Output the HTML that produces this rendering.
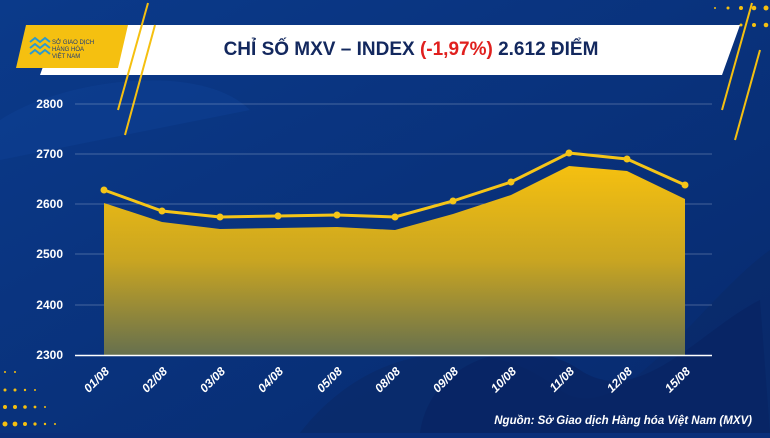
<!DOCTYPE html><html><head><meta charset="utf-8"><style>body{margin:0;width:770px;height:433px;overflow:hidden;background:#0a2f7a;font-family:"Liberation Sans",sans-serif}</style></head><body>
<svg width="770" height="433" xmlns="http://www.w3.org/2000/svg">
<defs>
<linearGradient id="bg" x1="0" y1="0" x2="1" y2="1"><stop offset="0" stop-color="#0b3a8a"/><stop offset="1" stop-color="#072a6e"/></linearGradient>
<linearGradient id="ar" x1="0" y1="0" x2="0" y2="1"><stop offset="0" stop-color="#f5c010"/><stop offset="0.5" stop-color="#c9a521"/><stop offset="1" stop-color="#66704e"/></linearGradient>
</defs>
<rect width="770" height="433" fill="url(#bg)"/>
<path d="M300 433 C380 330 500 340 560 390 C620 433 700 300 770 250 L770 433Z" fill="#0a2a6a" opacity="0.8"/>
<path d="M420 433 C430 360 520 330 580 370 C640 410 700 330 760 300 L770 433Z" fill="#082462" opacity="0.7"/>
<path d="M0 120 C60 80 200 60 250 110 L0 160Z" fill="#0d3f93" opacity="0.5"/>
<g fill="#f5c010">
<circle cx="5" cy="372" r="1"/><circle cx="15" cy="372" r="1"/><circle cx="5" cy="390" r="1.5"/><circle cx="15" cy="390" r="1.5"/><circle cx="25" cy="390" r="1.2"/><circle cx="35" cy="390" r="1"/>
<circle cx="5" cy="407" r="2"/><circle cx="15" cy="407" r="2"/><circle cx="25" cy="407" r="1.8"/><circle cx="35" cy="407" r="1.4"/><circle cx="45" cy="407" r="1"/>
<circle cx="5" cy="424" r="2.5"/><circle cx="15" cy="424" r="2.4"/><circle cx="25" cy="424" r="2"/><circle cx="35" cy="424" r="1.6"/><circle cx="45" cy="424" r="1.2"/><circle cx="55" cy="424" r="1"/>
<circle cx="715" cy="8" r="1"/><circle cx="728" cy="8" r="1.5"/><circle cx="741" cy="8" r="2"/><circle cx="754" cy="8" r="2.3"/><circle cx="766" cy="8" r="2.5"/>
<circle cx="741" cy="25" r="1.5"/><circle cx="754" cy="25" r="2"/><circle cx="766" cy="25" r="2.3"/>
</g>
<polygon points="58,25 740,25 722,75 40,75" fill="#fff"/>
<polygon points="26,25 128,25 118,68 16,68" fill="#f5c010"/>
<text x="52" y="44" font-size="6" fill="#1a3a7a">SỞ GIAO DỊCH</text>
<text x="52" y="51" font-size="6" fill="#1a3a7a">HÀNG HÓA</text>
<text x="52" y="58" font-size="6" fill="#1a3a7a">VIỆT NAM</text>
<path d="M30 42 l5 -4 l5 4 l5 -4 l5 4 M30 48 l5 -4 l5 4 l5 -4 l5 4 M30 54 l5 -4 l5 4 l5 -4 l5 4" stroke="#2a9ad0" stroke-width="2" fill="none"/>
<g stroke="#f5c010" stroke-width="2"><line x1="148" y1="3" x2="118" y2="110"/><line x1="155" y1="25" x2="125" y2="135"/><line x1="752" y1="3" x2="722" y2="110"/><line x1="760" y1="50" x2="735" y2="140"/></g>
<text x="411" y="55" text-anchor="middle" font-size="19" font-weight="bold" fill="#13285e">CHỈ SỐ MXV – INDEX <tspan fill="#e0201e">(-1,97%)</tspan> 2.612 ĐIỂM</text>
<g stroke="#ffffff" stroke-opacity="0.25" stroke-width="1"><line x1="75" y1="104" x2="712" y2="104"/><line x1="75" y1="154" x2="712" y2="154"/><line x1="75" y1="204" x2="712" y2="204"/><line x1="75" y1="254" x2="712" y2="254"/><line x1="75" y1="305" x2="712" y2="305"/></g>
<g font-size="12" font-weight="bold" fill="#fff" text-anchor="end"><text x="63" y="108">2800</text><text x="63" y="158">2700</text><text x="63" y="208">2600</text><text x="63" y="258">2500</text><text x="63" y="309">2400</text><text x="63" y="359">2300</text></g>
<polygon points="104,203 162,222 220,229 278,228 337,227 395,230 453,214 511,195 569,166 627,171 685,199 685,355 104,355" fill="url(#ar)"/>
<line x1="75" y1="355.5" x2="712" y2="355.5" stroke="#fff" stroke-width="1.5"/>
<polyline points="104,190 162,211 220,217 278,216 337,215 395,217 453,201 511,182 569,153 627,159 685,185" fill="none" stroke="#f5c518" stroke-width="3"/>
<g fill="#f5c518"><circle cx="104" cy="190" r="3.5"/><circle cx="162" cy="211" r="3.5"/><circle cx="220" cy="217" r="3.5"/><circle cx="278" cy="216" r="3.5"/><circle cx="337" cy="215" r="3.5"/><circle cx="395" cy="217" r="3.5"/><circle cx="453" cy="201" r="3.5"/><circle cx="511" cy="182" r="3.5"/><circle cx="569" cy="153" r="3.5"/><circle cx="627" cy="159" r="3.5"/><circle cx="685" cy="185" r="3.5"/></g>
<g font-size="12" font-weight="bold" fill="#fff" font-style="italic">
<text transform="translate(110,372) rotate(-45)" text-anchor="end">01/08</text>
<text transform="translate(168,372) rotate(-45)" text-anchor="end">02/08</text>
<text transform="translate(226,372) rotate(-45)" text-anchor="end">03/08</text>
<text transform="translate(284,372) rotate(-45)" text-anchor="end">04/08</text>
<text transform="translate(343,372) rotate(-45)" text-anchor="end">05/08</text>
<text transform="translate(401,372) rotate(-45)" text-anchor="end">08/08</text>
<text transform="translate(459,372) rotate(-45)" text-anchor="end">09/08</text>
<text transform="translate(517,372) rotate(-45)" text-anchor="end">10/08</text>
<text transform="translate(575,372) rotate(-45)" text-anchor="end">11/08</text>
<text transform="translate(633,372) rotate(-45)" text-anchor="end">12/08</text>
<text transform="translate(691,372) rotate(-45)" text-anchor="end">15/08</text>
</g>
<text x="752" y="424" text-anchor="end" font-size="11.5" font-weight="bold" font-style="italic" fill="#fff">Nguồn: Sở Giao dịch Hàng hóa Việt Nam (MXV)</text>
</svg></body></html>
